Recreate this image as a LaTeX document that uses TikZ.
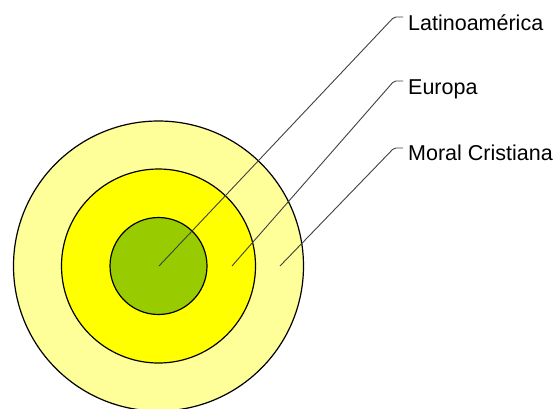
\documentclass[tikz,border=0pt]{standalone}
\usepackage{fontspec}
\setmainfont{Liberation Sans}
\definecolor{ringouter}{HTML}{FFFF99}
\definecolor{ringmid}{HTML}{FFFF00}
\definecolor{ringinner}{HTML}{99CC00}
\definecolor{leadergray}{HTML}{404040}
\begin{document}
\begin{tikzpicture}[x=1pt,y=-1pt,
  ring/.style={circle, draw=black, line width=1.2pt, inner sep=0pt},
  leader/.style={draw=leadergray, line width=0.9pt, rounded corners=2pt},
  lbl/.style={anchor=base west, inner sep=0pt, font=\fontsize{21.5}{25}\selectfont}]
\useasboundingbox (0,0) rectangle (554,408);
\node[ring, fill=ringouter, minimum size=290pt] (outer) at (158.5,266) {};
\node[ring, fill=ringmid, minimum size=194pt] (mid) at (158.5,266) {};
\node[ring, fill=ringinner, minimum size=97pt] (inner) at (158.5,266) {};
\coordinate (s1) at (159,266);
\coordinate (s2) at (232,266);
\coordinate (s3) at (280,266);
\coordinate (k1) at (394,17);
\coordinate (k2) at (394,81);
\coordinate (k3) at (394,148);
\coordinate (e1) at (403,17);
\coordinate (e2) at (403,81);
\coordinate (e3) at (403,148);
\node[lbl] (t1) at (408,30) {Latinoamérica};
\node[lbl] (t2) at (408,94) {Europa};
\node[lbl] (t3) at (408,160) {Moral Cristiana};
\draw[leader] (s1) -- (k1) -- (e1);
\draw[leader] (s2) -- (k2) -- (e2);
\draw[leader] (s3) -- (k3) -- (e3);
\end{tikzpicture}
\end{document}
